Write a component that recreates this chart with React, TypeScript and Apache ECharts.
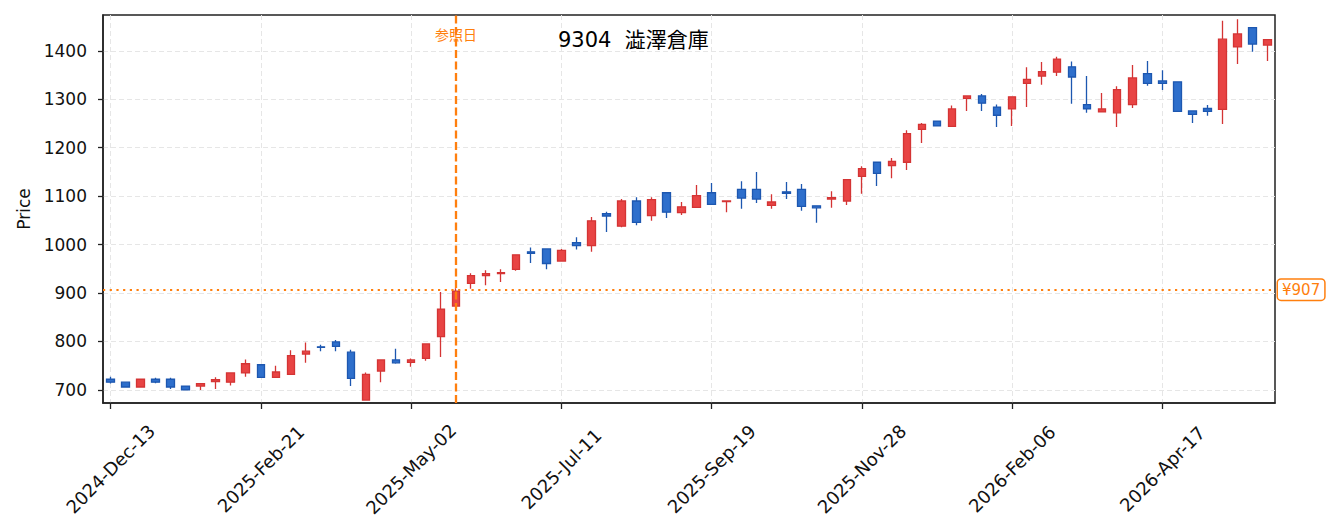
import React, { useEffect, useRef } from "react";
import * as echarts from "echarts";

const title = "9304  澁澤倉庫";
const yName = "Price";

const categories = [
  "2024-Dec-13", "2024-Dec-20", "2024-Dec-27", "2025-Jan-03", "2025-Jan-10", "2025-Jan-17", "2025-Jan-24", "2025-Jan-31",
  "2025-Feb-07", "2025-Feb-14", "2025-Feb-21", "2025-Feb-28", "2025-Mar-07", "2025-Mar-14", "2025-Mar-21", "2025-Mar-28",
  "2025-Apr-04", "2025-Apr-11", "2025-Apr-18", "2025-Apr-25", "2025-May-02", "2025-May-09", "2025-May-16", "2025-May-23",
  "2025-May-30", "2025-Jun-06", "2025-Jun-13", "2025-Jun-20", "2025-Jun-27", "2025-Jul-04", "2025-Jul-11", "2025-Jul-18",
  "2025-Jul-25", "2025-Aug-01", "2025-Aug-08", "2025-Aug-15", "2025-Aug-22", "2025-Aug-29", "2025-Sep-05", "2025-Sep-12",
  "2025-Sep-19", "2025-Sep-26", "2025-Oct-03", "2025-Oct-10", "2025-Oct-17", "2025-Oct-24", "2025-Oct-31", "2025-Nov-07",
  "2025-Nov-14", "2025-Nov-21", "2025-Nov-28", "2025-Dec-05", "2025-Dec-12", "2025-Dec-19", "2025-Dec-26", "2026-Jan-02",
  "2026-Jan-09", "2026-Jan-16", "2026-Jan-23", "2026-Jan-30", "2026-Feb-06", "2026-Feb-13", "2026-Feb-20", "2026-Feb-27",
  "2026-Mar-06", "2026-Mar-13", "2026-Mar-20", "2026-Mar-27", "2026-Apr-03", "2026-Apr-10", "2026-Apr-17", "2026-Apr-24",
  "2026-May-01", "2026-May-08", "2026-May-15", "2026-May-22", "2026-May-29", "2026-Jun-05",
];

const opens = [
  722, 716, 706, 722, 722, 708, 708, 717, 716, 735, 752, 726, 732, 774, 789, 799, 778, 679, 739, 762,
  757, 765, 810, 873, 920, 936, 940, 949, 985, 991, 966, 1004, 998, 1064, 1038, 1090, 1060, 1107, 1066, 1077,
  1107, 1089, 1114, 1114, 1081, 1109, 1114, 1080, 1094, 1090, 1141, 1170, 1163, 1170, 1238, 1255, 1244, 1302, 1307, 1284,
  1280, 1333, 1348, 1356, 1367, 1289, 1274, 1272, 1289, 1353, 1338, 1336, 1276, 1281, 1279, 1408, 1448, 1412,
];
const closes = [
  716, 706, 722, 716, 706, 700, 713, 721, 735, 754, 726, 737, 771, 780, 788, 790, 724, 732, 762, 756,
  762, 795, 867, 904, 936, 940, 942, 979, 982, 961, 988, 998, 1049, 1059, 1090, 1046, 1093, 1067, 1078, 1101,
  1083, 1090, 1096, 1094, 1088, 1106, 1079, 1076, 1097, 1134, 1157, 1147, 1172, 1229, 1248, 1245, 1280, 1307, 1292, 1267,
  1305, 1341, 1357, 1383, 1346, 1280, 1280, 1320, 1344, 1333, 1333, 1275, 1269, 1275, 1424, 1435, 1414, 1423,
];
const lows = [
  713, 705, 705, 714, 702, 699, 700, 702, 709, 727, 726, 726, 732, 756, 780, 780, 708, 679, 716, 754,
  748, 760, 768, 873, 909, 916, 923, 946, 962, 949, 966, 990, 985, 1026, 1036, 1040, 1049, 1055, 1061, 1077,
  1082, 1067, 1074, 1086, 1074, 1094, 1070, 1045, 1076, 1082, 1105, 1121, 1137, 1154, 1210, 1244, 1244, 1276, 1276, 1243,
  1245, 1284, 1330, 1348, 1291, 1272, 1274, 1243, 1282, 1328, 1319, 1275, 1251, 1266, 1249, 1373, 1398, 1379,
];
const highs = [
  727, 717, 723, 725, 725, 709, 713, 726, 736, 763, 752, 750, 782, 798, 793, 803, 783, 736, 762, 785,
  765, 795, 902, 910, 941, 947, 949, 979, 994, 991, 991, 1015, 1057, 1068, 1094, 1098, 1098, 1107, 1088, 1123,
  1127, 1091, 1131, 1150, 1104, 1129, 1125, 1080, 1110, 1135, 1162, 1170, 1179, 1236, 1251, 1256, 1287, 1307, 1311, 1289,
  1305, 1366, 1377, 1388, 1378, 1348, 1313, 1327, 1371, 1379, 1360, 1336, 1276, 1288, 1462, 1465, 1448, 1423,
];

const yTicks = [700, 800, 900, 1000, 1100, 1200, 1300, 1400];
const yMin = 673;
const yMax = 1474;
const refDate = "2025-May-23";
const refPrice = 907;
const refLabel = "参照日";

const FONT = "'DejaVu Sans', 'Noto Sans CJK JP', sans-serif";
const ORANGE = "#ff7f0e";

export default function App() {
  const ref = useRef<HTMLDivElement>(null);

  useEffect(() => {
    document.body.style.margin = "0";
    const chart = echarts.init(ref.current as HTMLDivElement, null, { renderer: "svg" });
    const ohlc = opens.map((o, i) => [o, closes[i], lows[i], highs[i]]);
    const gridLine = { color: "#e6e6e6", width: 1, type: [5, 3] as number[] };
    const axisColor = "#222";

    chart.setOption({
      animation: false,
      textStyle: { fontFamily: FONT },
      title: {
        text: title,
        left: 553,
        top: 24,
        textStyle: { fontSize: 21, fontWeight: "normal", color: "#000", fontFamily: FONT },
      },
      grid: {
        left: 103,
        right: 64,
        top: 15,
        bottom: 128,
        show: true,
        borderColor: axisColor,
        borderWidth: 1.5,
        containLabel: false,
      },
      xAxis: {
        type: "category",
        data: categories,
        boundaryGap: true,
        axisLine: { show: true, lineStyle: { color: axisColor, width: 1.5 } },
        axisTick: { show: true, interval: 9, alignWithLabel: true, length: 6, lineStyle: { color: axisColor, width: 1.3 } },
        axisLabel: {
          interval: 9,
          rotate: 45,
          align: "center",
          verticalAlign: "middle",
          margin: 66,
          fontSize: 18,
          color: "#111",
          fontFamily: FONT,
        },
        splitLine: { show: true, interval: 9, alignWithLabel: true, lineStyle: gridLine },
      },
      yAxis: {
        type: "value",
        min: yMin,
        max: yMax,
        name: yName,
        nameLocation: "middle",
        nameGap: 71,
        nameTextStyle: { fontSize: 17, color: "#111", fontFamily: FONT },
        axisLine: { show: true, lineStyle: { color: axisColor, width: 1.5 } },
        axisTick: { show: true, length: 5, customValues: yTicks, lineStyle: { color: axisColor, width: 1.3 } },
        axisLabel: {
          customValues: yTicks,
          margin: 16,
          fontSize: 17,
          color: "#111",
          fontFamily: FONT,
          formatter: (v: number) => String(v),
        },
        splitLine: { show: true, lineStyle: gridLine },
      },
      series: [
        {
          type: "candlestick",
          data: ohlc,
          barWidth: 8,
          itemStyle: {
            color: "#e84444",
            color0: "#2e6fcc",
            borderColor: "#d43434",
            borderColor0: "#1d57b0",
            borderWidth: 1.3,
          },
          markLine: {
            silent: true,
            symbol: ["none", "none"],
            animation: false,
            data: [
              {
                xAxis: refDate,
                lineStyle: { color: ORANGE, width: 2.3, type: [8, 3.5] },
                label: { show: false },
              },
              {
                yAxis: refPrice,
                lineStyle: { color: ORANGE, width: 2.2, type: [2.2, 4.5] },
                label: {
                  show: true,
                  position: "end",
                  distance: 3,
                  formatter: "¥" + refPrice,
                  color: ORANGE,
                  fontSize: 15,
                  fontFamily: FONT,
                  backgroundColor: "#fff",
                  borderColor: ORANGE,
                  borderWidth: 1.5,
                  borderRadius: 3,
                  padding: [3, 4, 2, 4],
                },
              },
            ],
          },
          markPoint: {
            silent: true,
            symbol: "circle",
            symbolSize: 1,
            itemStyle: { color: "rgba(0,0,0,0)" },
            label: {
              show: true,
              position: "inside",
              formatter: refLabel,
              color: ORANGE,
              fontSize: 14,
              fontFamily: FONT,
            },
            data: [{ coord: [refDate, yMax - 42] }],
          },
        },
      ],
    });

    return () => chart.dispose();
  }, []);

  return <div ref={ref} style={{ width: 1339, height: 531 }} />;
}
